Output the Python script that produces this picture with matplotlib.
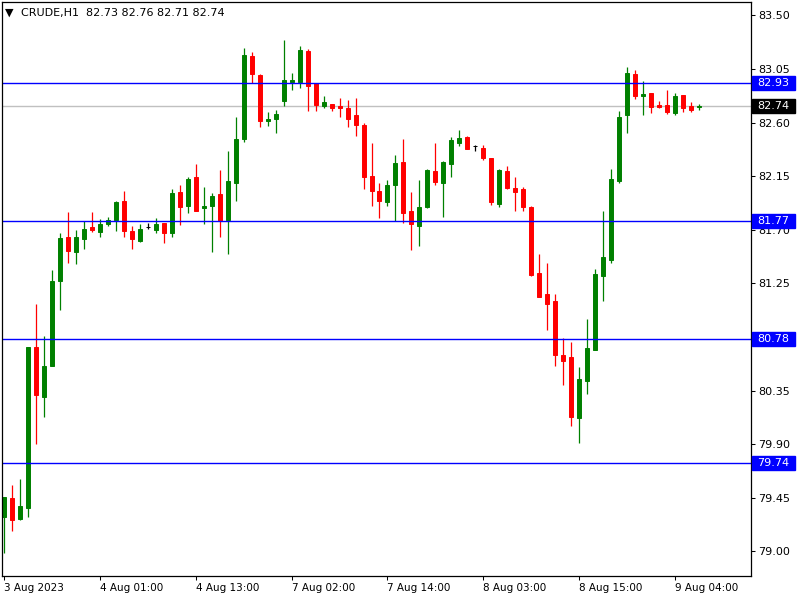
import matplotlib
matplotlib.use("Agg")
import matplotlib.pyplot as plt
import matplotlib.transforms as mtransforms
from matplotlib.patches import Rectangle
import numpy as np

# hourly bars, CRUDE H1 (open, high, low, close)
opens = [79.29, 79.45, 79.27, 79.36, 80.72, 80.30, 80.56, 81.27, 81.64, 81.51,
         81.62, 81.72, 81.68, 81.75, 81.78, 81.94, 81.69, 81.61, 81.72, 81.70,
         81.76, 81.67, 82.02, 81.90, 82.14, 81.88, 81.90, 82.00, 81.78, 82.09,
         82.46, 83.16, 83.00, 82.61, 82.63, 82.78, 82.94, 82.94, 83.20, 82.93,
         82.74, 82.76, 82.74, 82.72, 82.66, 82.58, 82.15, 82.03, 81.93, 82.08,
         82.27, 81.86, 81.73, 81.89, 82.19, 82.09, 82.25, 82.43, 82.48, 82.40,
         82.39, 82.30, 81.92, 82.19, 82.05, 82.04, 81.89, 81.34, 81.16, 81.10,
         80.65, 80.63, 80.12, 80.43, 80.69, 81.31, 81.45, 82.11, 82.66, 83.01,
         82.82, 82.85, 82.75, 82.75, 82.68, 82.83, 82.74, 82.73]
highs = [79.46, 79.56, 79.61, 80.72, 81.08, 80.81, 81.36, 81.67, 81.85, 81.70,
         81.77, 81.85, 81.79, 81.81, 81.94, 82.03, 81.73, 81.75, 81.76, 81.80,
         81.76, 82.04, 82.08, 82.14, 82.25, 82.06, 82.01, 82.20, 82.36, 82.65,
         83.23, 83.19, 83.01, 82.69, 82.71, 83.29, 83.02, 83.24, 83.22, 82.93,
         82.82, 82.76, 82.81, 82.79, 82.81, 82.60, 82.43, 82.09, 82.12, 82.33,
         82.46, 82.02, 82.12, 82.21, 82.43, 82.28, 82.48, 82.54, 82.49, 82.41,
         82.41, 82.30, 82.21, 82.24, 82.14, 82.06, 81.90, 81.50, 81.42, 81.16,
         80.79, 80.76, 80.55, 80.95, 81.37, 81.86, 82.21, 82.70, 83.07, 83.04,
         82.95, 82.85, 82.78, 82.87, 82.85, 82.83, 82.77, 82.76]
lows = [78.99, 79.17, 79.26, 79.29, 79.90, 80.13, 80.56, 81.03, 81.42, 81.41,
        81.54, 81.68, 81.64, 81.73, 81.69, 81.64, 81.54, 81.60, 81.71, 81.67,
        81.59, 81.64, 81.74, 81.84, 81.86, 81.75, 81.51, 81.64, 81.50, 81.94,
        82.44, 82.93, 82.56, 82.57, 82.51, 82.74, 82.87, 82.89, 82.70, 82.70,
        82.72, 82.70, 82.65, 82.56, 82.49, 82.04, 81.90, 81.80, 81.90, 81.77,
        81.76, 81.53, 81.56, 81.88, 82.08, 81.81, 82.14, 82.40, 82.38, 82.36,
        82.29, 81.91, 81.89, 82.04, 81.86, 81.86, 81.31, 81.14, 80.86, 80.56,
        80.40, 80.05, 79.91, 80.32, 80.69, 81.10, 81.42, 82.09, 82.51, 82.80,
        82.66, 82.68, 82.72, 82.67, 82.66, 82.69, 82.69, 82.71]
closes = [79.46, 79.26, 79.38, 80.72, 80.31, 80.56, 81.27, 81.63, 81.52, 81.64,
          81.71, 81.70, 81.75, 81.78, 81.93, 81.69, 81.62, 81.71, 81.72, 81.75,
          81.67, 82.01, 81.89, 82.13, 81.86, 81.90, 81.98, 81.77, 82.11, 82.46,
          83.17, 83.01, 82.61, 82.63, 82.67, 82.96, 82.96, 83.21, 82.91, 82.75,
          82.77, 82.72, 82.72, 82.63, 82.58, 82.14, 82.03, 81.94, 82.08, 82.26,
          81.84, 81.75, 81.89, 82.20, 82.10, 82.27, 82.45, 82.47, 82.38, 82.40,
          82.30, 81.93, 82.20, 82.05, 82.02, 81.89, 81.32, 81.14, 81.08, 80.65,
          80.60, 80.13, 80.45, 80.71, 81.33, 81.47, 82.13, 82.65, 83.02, 82.82,
          82.84, 82.73, 82.73, 82.69, 82.82, 82.72, 82.71, 82.74]

blue_levels = [82.93, 81.77, 80.78, 79.74]
last_price = 82.74
y_ticks = [83.50, 83.05, 82.60, 82.15, 81.70, 81.25, 80.80, 80.35, 79.90, 79.45, 79.00]
x_tick_bars = [0, 12, 24, 36, 48, 60, 72, 84]
x_tick_labels = ["3 Aug 2023", "4 Aug 01:00", "4 Aug 13:00", "7 Aug 02:00",
                 "7 Aug 14:00", "8 Aug 03:00", "8 Aug 15:00", "9 Aug 04:00"]

o = np.array(opens)
h = np.array(highs)
l = np.array(lows)
c = np.array(closes)
x = np.arange(len(o))
cols = np.where(c > o, "#008000", np.where(c < o, "#FF0000", "#000000"))

fig = plt.figure(figsize=(8, 6), dpi=100)
ax = fig.add_axes([2 / 800, 24 / 600, 749 / 800, 574 / 600])

# wicks then bodies
ax.vlines(x, l, h, colors=cols, linewidth=0.9, zorder=3)
ax.bar(x, np.abs(c - o), bottom=np.minimum(o, c), width=0.5,
       color=cols, edgecolor=cols, linewidth=0.7, zorder=4)

# bid line behind candles, blue levels in front
ax.axhline(last_price, color="#C0C0C0", linewidth=1.0, zorder=1)
for lv in blue_levels:
    ax.axhline(lv, color="#0000FF", linewidth=1.0, zorder=5)

ax.set_xlim(-0.19, 93.44)
ax.set_ylim(78.793, 83.613)

ax.yaxis.tick_right()
ax.set_yticks(y_ticks)
ax.set_yticklabels([f"{v:.2f}" for v in y_ticks])
ax.tick_params(axis="y", direction="out", length=3, width=0.75, pad=2,
               labelsize=8, colors="black")
ax.set_xticks(x_tick_bars)
ax.set_xticklabels(x_tick_labels)
ax.tick_params(axis="x", direction="out", length=3, width=0.75, pad=2,
               labelsize=7.5)
for t in ax.get_xticklabels():
    t.set_horizontalalignment("left")

for sp in ax.spines.values():
    sp.set_linewidth(0.9)
    sp.set_color("black")
    sp.set_zorder(6)

# price boxes on the right scale
trans = mtransforms.blended_transform_factory(ax.transAxes, ax.transData)
box_h = 14 / 119.1
box_w = 43 / 749
for lv, fc in [(v, "#0000FF") for v in blue_levels] + [(last_price, "#000000")]:
    ax.add_patch(Rectangle((1.0015, lv - box_h / 2), box_w, box_h,
                           transform=trans, facecolor=fc, edgecolor=fc,
                           clip_on=False, zorder=7))
    ax.text(1.0015 + box_w / 2, lv, f"{lv:.2f}", transform=trans,
            color="white", fontsize=8, ha="center", va="center",
            clip_on=False, zorder=8)

fig.text(5 / 800, 1 - 13 / 600, "▼", fontsize=8, va="center", ha="left")
fig.text(21 / 800, 1 - 13 / 600, "CRUDE,H1  82.73 82.76 82.71 82.74",
         fontsize=8, va="center", ha="left")

fig.savefig("out.png", dpi=100)
